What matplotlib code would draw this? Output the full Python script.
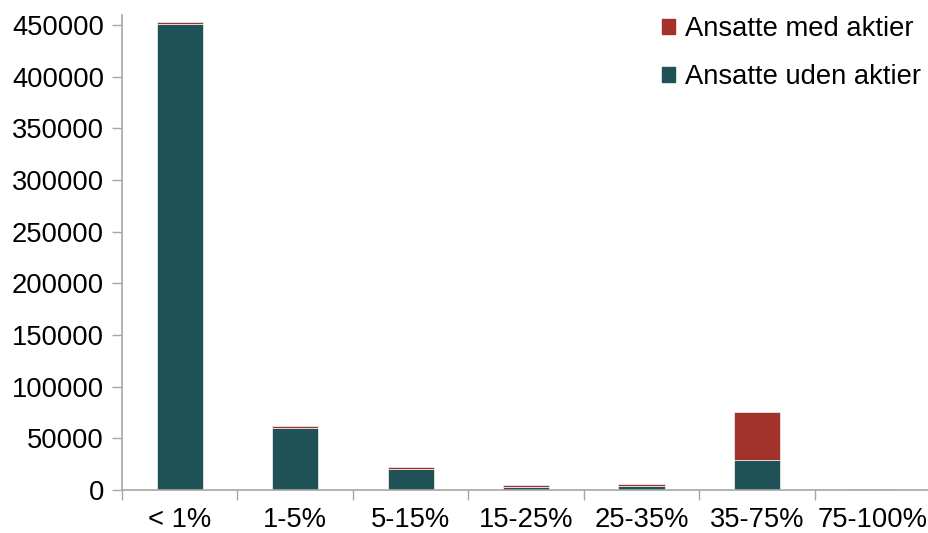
import numpy as np
import matplotlib.pyplot as plt
from matplotlib.patches import Patch
from matplotlib.ticker import FixedLocator

plt.rcParams["font.family"] = ["Liberation Sans", "DejaVu Sans"]

# data
categories = ["< 1%", "1-5%", "5-15%", "15-25%", "25-35%", "35-75%", "75-100%"]
uden_aktier = [451000, 60000, 20500, 2800, 4000, 29500, 100]
med_aktier = [2000, 2000, 1800, 1600, 2200, 45500, 400]

teal = "#1F5257"
red = "#A3322B"
grey = "#A6A6A6"
fs = 19.7

fig = plt.figure(figsize=(9.29, 5.33), dpi=100)
ax = fig.add_axes([0.1313, 0.0807, 0.87, 0.8917])

x = np.arange(len(categories))
ax.bar(x, uden_aktier, width=0.4, color=teal, edgecolor="#E8E8E8", linewidth=0.6, zorder=2)
ax.bar(x, med_aktier, width=0.4, bottom=uden_aktier, color=red, edgecolor="#E8E8E8", linewidth=0.6, zorder=2)

ax.set_xlim(-0.5, len(categories) - 0.5)
ax.set_ylim(0, 460000)
ax.set_yticks(np.arange(0, 450001, 50000))

ax.set_xticks(x)
ax.set_xticklabels(categories)
ax.xaxis.set_minor_locator(FixedLocator(np.arange(-0.5, len(categories) + 0.5, 1)))
ax.tick_params(axis="x", which="major", length=0, pad=12, labelsize=fs)
ax.tick_params(axis="x", which="minor", length=7, width=1, color=grey)
ax.tick_params(axis="y", length=7, width=1, color=grey, labelsize=fs, pad=6)

for s in ["top", "right"]:
    ax.spines[s].set_visible(False)
for s in ["left", "bottom"]:
    ax.spines[s].set_color(grey)
    ax.spines[s].set_linewidth(1.2)

handles = [Patch(color=red, label="Ansatte med aktier"),
           Patch(color=teal, label="Ansatte uden aktier")]
ax.legend(handles=handles, loc="upper right", bbox_to_anchor=(1.009, 1.031),
          frameon=False, fontsize=fs, handlelength=0.5, handleheight=0.5,
          handletextpad=0.35, labelspacing=0.8, borderaxespad=0.2)

fig.savefig("out.png", dpi=100)
